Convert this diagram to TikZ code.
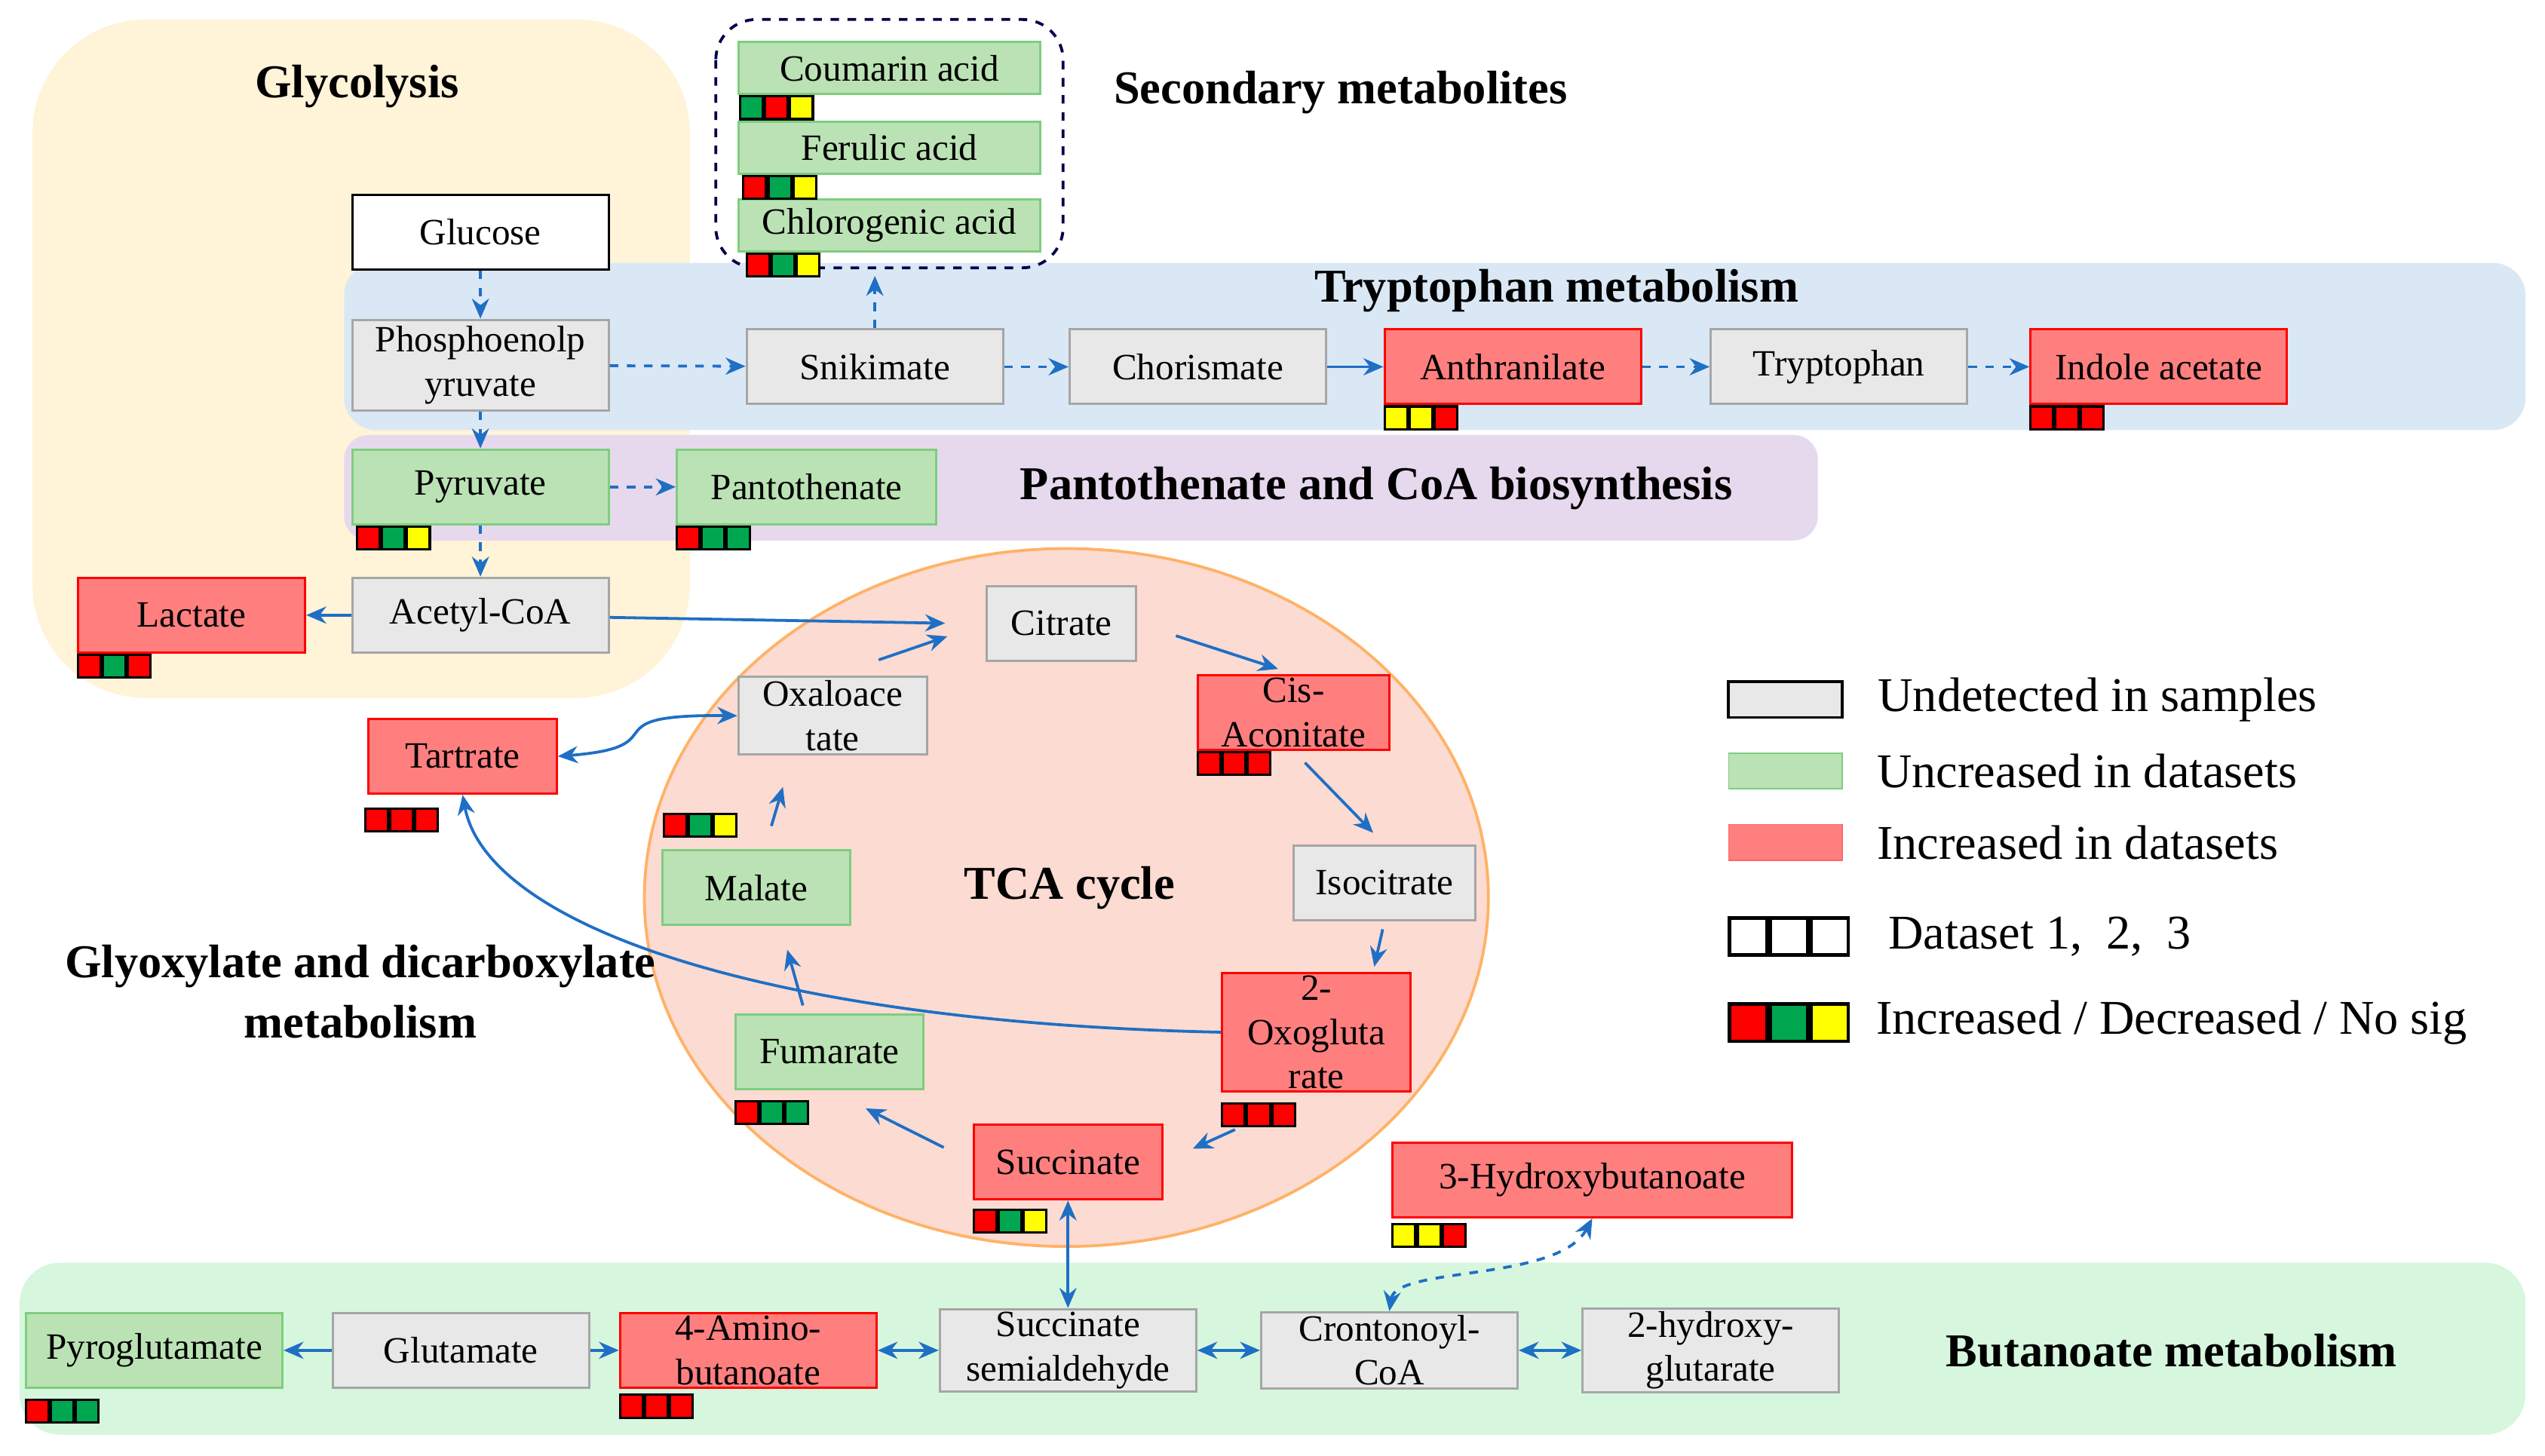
\documentclass[tikz,border=0pt]{standalone}
\usepackage{fontspec}
\setmainfont{Liberation Serif}
\usetikzlibrary{arrows.meta,positioning}
\definecolor{flow}{HTML}{1F6FC5}
\definecolor{redf}{HTML}{FF7F7F}
\definecolor{greenf}{HTML}{BBE2B4}
\definecolor{greyf}{HTML}{E8E8E8}
\definecolor{sqred}{HTML}{FF0000}
\definecolor{sqgreen}{HTML}{00A650}
\definecolor{sqyellow}{HTML}{FFFF00}
\definecolor{glycbg}{HTML}{FFF3D8}
\definecolor{trpbg}{HTML}{DAE8F5}
\definecolor{panbg}{HTML}{E7D9ED}
\definecolor{butbg}{HTML}{D6F7DE}
\definecolor{tcabg}{HTML}{FCDBD2}
\tikzset{
  met/.style={shape=rectangle, draw, line width=0.8pt, minimum width=3.16cm, minimum height=0.92cm, align=center, font=\fontsize{13}{15.5}\selectfont, inner sep=1pt},
  undet/.style={met, draw=gray!70, fill=greyf},
  uninc/.style={met, draw=green!45!gray!70, fill=greenf},
  inc/.style={met, draw=red, fill=redf},
  title/.style={font=\bfseries\fontsize{16.5}{21}\selectfont, align=center},
  flowarrow/.style={-{Stealth[length=7pt,width=6pt]}, color=flow, line width=1pt},
  twoway/.style={{Stealth[length=7pt,width=6pt]}-{Stealth[length=7pt,width=6pt]}, color=flow, line width=1pt},
  sq/.style={draw=black, line width=0.8pt, minimum size=0.28cm, inner sep=0pt}
}
% three dataset squares below a node
\newcommand{\datamarks}[5]{%
  \node[sq, fill=#3, anchor=north west] (#1m1) at ([#2]#1.south west) {};
  \node[sq, fill=#4, right=0pt of #1m1] (#1m2) {};
  \node[sq, fill=#5, right=0pt of #1m2] (#1m3) {};}
\begin{document}
\begin{tikzpicture}[x=0.02cm, y=-0.02cm]
\useasboundingbox (0,0) rectangle (1568,897);
% backgrounds
\fill[color=glycbg] (20,12) [rounded corners=1.4cm] rectangle (425,430);
\fill[color=trpbg] (212,162) [rounded corners=0.4cm] rectangle (1556,265);
\fill[color=panbg] (212,268) [rounded corners=0.3cm] rectangle (1120,333);
\fill[color=butbg] (12,778) [rounded corners=0.5cm] rectangle (1556,884);
\draw[fill=tcabg, draw=orange!60, line width=1pt] (657,553) ellipse [x radius=260, y radius=215];
\draw[dashed, color=blue!30!black, line width=1pt, rounded corners=0.5cm] (441,12) rectangle (655,165);
% titles
\node[title] (tglyc) at (220,53) {Glycolysis};
\node[title] (tsec) at (826,57) {Secondary metabolites};
\node[title] (ttrp) at (959,179) {Tryptophan metabolism};
\node[title] (tpan) at (848,301) {Pantothenate and CoA biosynthesis};
\node[title] (ttca) at (659,547) {TCA cycle};
\node[title] (tgly) at (222,611) {Glyoxylate and dicarboxylate\\metabolism};
\node[title] (tbut) at (1338,832) {Butanoate metabolism};
% metabolites
\node[met, fill=white, draw=black] (Glucose) at (296,143) {Glucose};
\node[undet, minimum height=1.12cm] (PEP) at (296,225) {Phosphoenolp\\yruvate};
\node[undet] (Snikimate) at (539,226) {Snikimate};
\node[undet] (Chorismate) at (738,226) {Chorismate};
\node[inc] (Anthranilate) at (932,226) {Anthranilate};
\node[undet] (Tryptophan) at (1133,226) {Tryptophan};
\node[inc] (Indole) at (1330,226) {Indole acetate};
\node[uninc] (Pyruvate) at (296,300) {Pyruvate};
\node[uninc, minimum width=3.2cm] (Pantothenate) at (497,300) {Pantothenate};
\node[undet] (AcetylCoA) at (296,379) {Acetyl-CoA};
\node[inc, minimum width=2.8cm] (Lactate) at (118,379) {Lactate};
\node[undet, minimum width=1.84cm] (Citrate) at (654,384) {Citrate};
\node[inc, minimum width=2.36cm, minimum height=0.92cm] (CisAco) at (797,439) {Cis-\\Aconitate};
\node[undet, minimum width=2.24cm] (Isocitrate) at (853,544) {Isocitrate};
\node[inc, minimum width=2.32cm, minimum height=1.4cm] (Oxoglut) at (811,636) {2-\\Oxogluta\\rate};
\node[inc, minimum width=2.32cm] (Succinate) at (658,716) {Succinate};
\node[uninc, minimum width=2.32cm] (Fumarate) at (511,648) {Fumarate};
\node[uninc, minimum width=2.32cm] (Malate) at (466,547) {Malate};
\node[undet, minimum width=2.32cm, minimum height=0.96cm] (Oxaloacetate) at (513,441) {Oxaloace\\tate};
\node[inc, minimum width=2.32cm] (Tartrate) at (285,466) {Tartrate};
\node[inc, minimum width=4.92cm] (Hydroxybut) at (981,727) {3-Hydroxybutanoate};
\node[uninc, minimum width=3.72cm, minimum height=0.64cm] (Coumarin) at (548,42) {Coumarin acid};
\node[uninc, minimum width=3.72cm, minimum height=0.64cm] (Ferulic) at (548,91) {Ferulic acid};
\node[uninc, minimum width=3.72cm, minimum height=0.64cm] (Chlorogenic) at (548,139) {Chlorogenic acid};
\node[uninc] (Pyroglutamate) at (95,832) {Pyroglutamate};
\node[undet] (Glutamate) at (284,832) {Glutamate};
\node[inc] (Aminobut) at (461,832) {4-Amino-\\butanoate};
\node[undet] (SuccSemi) at (658,832) {Succinate\\semialdehyde};
\node[undet] (Crotonoyl) at (856,832) {Crontonoyl-\\CoA};
\node[undet] (Hydroxyglut) at (1054,832) {2-hydroxy-\\glutarate};
\coordinate (secbox) at (539,170);
% dataset marks
\datamarks{Coumarin}{xshift=0.02cm}{sqgreen}{sqred}{sqyellow}
\datamarks{Ferulic}{xshift=0.06cm}{sqred}{sqgreen}{sqyellow}
\datamarks{Chlorogenic}{xshift=0.1cm}{sqred}{sqgreen}{sqyellow}
\datamarks{Anthranilate}{xshift=0cm}{sqyellow}{sqyellow}{sqred}
\datamarks{Indole}{xshift=0cm}{sqred}{sqred}{sqred}
\datamarks{Pyruvate}{xshift=0.06cm}{sqred}{sqgreen}{sqyellow}
\datamarks{Pantothenate}{xshift=0cm}{sqred}{sqgreen}{sqgreen}
\datamarks{Lactate}{xshift=0cm}{sqred}{sqgreen}{sqred}
\datamarks{Tartrate}{xshift=-0.04cm, yshift=-0.16cm}{sqred}{sqred}{sqred}
\datamarks{Oxaloacetate}{xshift=-0.92cm, yshift=-0.7cm}{sqred}{sqgreen}{sqyellow}
\datamarks{CisAco}{xshift=0cm}{sqred}{sqred}{sqred}
\datamarks{Oxoglut}{xshift=0cm, yshift=-0.12cm}{sqred}{sqred}{sqred}
\datamarks{Fumarate}{xshift=0cm, yshift=-0.12cm}{sqred}{sqgreen}{sqgreen}
\datamarks{Succinate}{xshift=0cm, yshift=-0.1cm}{sqred}{sqgreen}{sqyellow}
\datamarks{Hydroxybut}{xshift=0cm, yshift=-0.06cm}{sqyellow}{sqyellow}{sqred}
\datamarks{Pyroglutamate}{xshift=0cm, yshift=-0.12cm}{sqred}{sqgreen}{sqgreen}
\datamarks{Aminobut}{xshift=0cm, yshift=-0.06cm}{sqred}{sqred}{sqred}
% glycolysis and side branches
\draw[flowarrow, dashed] (Glucose) -- (PEP);
\draw[flowarrow, dashed] (PEP) -- (Pyruvate);
\draw[flowarrow, dashed] (Pyruvate) -- (AcetylCoA);
\draw[flowarrow, dashed] (PEP) -- (Snikimate);
\draw[flowarrow, dashed] (Snikimate) -- (secbox);
\draw[flowarrow, dashed] (Snikimate) -- (Chorismate);
\draw[flowarrow] (Chorismate) -- (Anthranilate);
\draw[flowarrow, dashed] (Anthranilate) -- (Tryptophan);
\draw[flowarrow, dashed] (Tryptophan) -- (Indole);
\draw[flowarrow, dashed] (Pyruvate) -- (Pantothenate);
\draw[flowarrow] (AcetylCoA) -- (Lactate);
\draw[flowarrow] (AcetylCoA) -- ([xshift=-0.5cm]Citrate.west);
% TCA cycle
\draw[flowarrow, shorten <=0.5cm, shorten >=0.2cm] (Citrate.east) -- (CisAco.north);
\draw[flowarrow, shorten <=0.2cm, shorten >=0.2cm] (CisAco.south) -- (Isocitrate.north);
\draw[flowarrow, shorten <=0.1cm, shorten >=0.06cm] (Isocitrate.south) -- ([xshift=0.7cm]Oxoglut.north);
\draw[flowarrow, shorten <=1.1cm, shorten >=0.4cm] (Oxoglut.south) -- (Succinate.east);
\draw[flowarrow, shorten <=0.4cm, shorten >=0.5cm] (Succinate.west) -- (Fumarate.south);
\draw[flowarrow, shorten <=0.1cm, shorten >=0.3cm] ([xshift=-0.3cm]Fumarate.north) -- ([xshift=0.3cm]Malate.south);
\draw[flowarrow, shorten <=0.3cm, shorten >=0.4cm] ([xshift=0.1cm]Malate.north) -- ([xshift=-0.5cm]Oxaloacetate.south);
\draw[flowarrow, shorten <=0.6cm, shorten >=0.5cm] (Oxaloacetate.north) -- (Citrate.west);
\draw[twoway] (Tartrate.east) .. controls (420,460) and (360,440) .. (Oxaloacetate.west);
\draw[flowarrow] (Oxoglut.west) .. controls (470,630) and (300,570) .. (Tartrate.south);
% butanoate
\draw[twoway] (Succinate) -- (SuccSemi);
\draw[flowarrow] (Glutamate) -- (Pyroglutamate);
\draw[flowarrow] (Glutamate) -- (Aminobut);
\draw[twoway] (Aminobut) -- (SuccSemi);
\draw[twoway] (SuccSemi) -- (Crotonoyl);
\draw[twoway] (Crotonoyl) -- (Hydroxyglut);
\draw[twoway, dashed] (Crotonoyl.north) .. controls (860,780) and (960,790) .. (Hydroxybut.south);
% legend
\begin{scope}[every node/.style={font=\fontsize{17}{20}\selectfont, anchor=west}]
\node[draw=black, line width=1pt, fill=greyf, minimum width=1.4cm, minimum height=0.44cm, anchor=center] (lgund) at (1100,431) {};
\node[right=0.3cm of lgund] (lgundt) {Undetected in samples};
\node[draw=green!45!gray!70, fill=greenf, minimum width=1.4cm, minimum height=0.44cm, anchor=center] (lgunc) at (1100,475) {};
\node[right=0.3cm of lgunc] (lgunct) {Uncreased in datasets};
\node[draw=redf!80!red, fill=redf, minimum width=1.4cm, minimum height=0.44cm, anchor=center] (lginc) at (1100,519) {};
\node[right=0.3cm of lginc] (lginct) {Increased in datasets};
\node[sq, line width=1.2pt, minimum size=0.46cm, fill=white, anchor=center] (lgd1) at (1077,577) {};
\node[sq, line width=1.2pt, minimum size=0.46cm, fill=white, right=0pt of lgd1] (lgd2) {};
\node[sq, line width=1.2pt, minimum size=0.46cm, fill=white, right=0pt of lgd2] (lgd3) {};
\node[right=0.35cm of lgd3] (lgdt) {Dataset 1,\ \ 2,\ \ 3};
\node[sq, line width=1.2pt, minimum size=0.46cm, fill=sqred, anchor=center] (lgc1) at (1077,630) {};
\node[sq, line width=1.2pt, minimum size=0.46cm, fill=sqgreen, right=0pt of lgc1] (lgc2) {};
\node[sq, line width=1.2pt, minimum size=0.46cm, fill=sqyellow, right=0pt of lgc2] (lgc3) {};
\node[right=0.2cm of lgc3] (lgct) {Increased / Decreased / No sig};
\end{scope}
\end{tikzpicture}
\end{document}
